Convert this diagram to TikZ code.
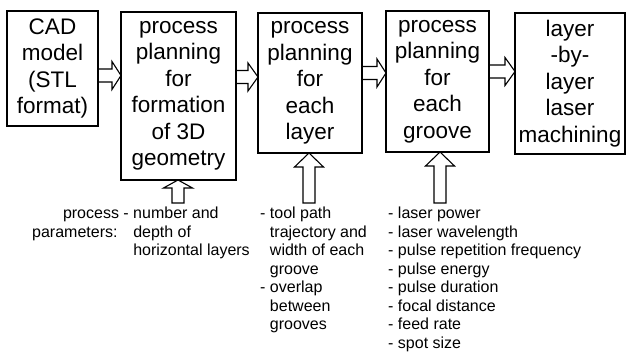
\documentclass[tikz,border=0pt]{standalone}
\usepackage{fontspec}
\setmainfont{Liberation Sans}
\usetikzlibrary{calc}

\tikzset{
  headlen/.store in=\ahlen, headlen=10pt,
  stagebox/.style={draw, line width=1.2pt, inner sep=0pt, outer sep=0pt, align=center,
    font=\fontsize{22.5}{26.5}\selectfont},
  paramtext/.style={inner sep=0pt, anchor=base west, font=\fontsize{16}{18.45}\selectfont},
  % hollow block arrow pointing right
  harrow/.style={line width=1.1pt, line join=miter, to path={
    let \p1=(\tikztostart), \p2=(\tikztotarget) in
    (\x1,\y1+6.5pt) -- (\x2-\ahlen,\y1+6.5pt) -- (\x2-\ahlen,\y1+14pt) -- (\x2,\y1)
    -- (\x2-\ahlen,\y1-14pt) -- (\x2-\ahlen,\y1-6.5pt) -- (\x1,\y1-6.5pt) -- cycle}},
  % hollow block arrow pointing up
  varrow/.style={line width=1.1pt, line join=miter, to path={
    let \p1=(\tikztostart), \p2=(\tikztotarget) in
    (\x1-6pt,\y1) -- (\x1-6pt,\y2-\ahlen) -- (\x1-14.5pt,\y2-\ahlen) -- (\x1,\y2)
    -- (\x1+14.5pt,\y2-\ahlen) -- (\x1+6pt,\y2-\ahlen) -- (\x1+6pt,\y1) -- cycle}}
}

\begin{document}
\begin{tikzpicture}[x=1pt, y=-1pt]
\useasboundingbox (0,0) rectangle (626,352);

% process stages
\node[stagebox, minimum width=91pt, minimum height=115pt] (b1) at (52.5,68.5)
  {CAD\\model\\(STL\\format)};
\node[stagebox, minimum width=115pt, minimum height=168pt] (b2) at (178.5,96)
  {process\\planning\\for\\formation\\of 3D\\geometry};
\node[stagebox, minimum width=104pt, minimum height=140pt] (b3) at (310,83)
  {process\\planning\\for\\each\\layer};
\node[stagebox, minimum width=103pt, minimum height=141pt] (b4) at (437.5,81.5)
  {process\\planning\\for\\each\\groove};
\node[stagebox, minimum width=110pt, minimum height=141pt] (b5) at (570,83.5)
  {layer\\-by-\\layer\\laser\\machining};

% levels of the arrows between stages
\coordinate (h1) at (0,75.5);
\coordinate (h2) at (0,77);
\coordinate (h3) at (0,73);
\coordinate (h4) at (0,71.5);
\draw[harrow, headlen=9pt] (b1.east |- h1) to (b2.west |- h1);
\draw[harrow, headlen=10pt] (b2.east |- h2) to (b3.west |- h2);
\draw[harrow, headlen=9pt] (b3.east |- h3) to (b4.west |- h3);
\draw[harrow, headlen=10pt] (b4.east |- h4) to (b5.west |- h4);

% parameter inputs
\coordinate (v2) at (178,203);
\coordinate (v3) at (309,203);
\coordinate (v4) at (440,203);
\draw[varrow, headlen=8pt] (v2) to (b2.south -| v2);
\draw[varrow, headlen=14pt] (v3) to (b3.south -| v3);
\draw[varrow, headlen=14pt] (v4) to (b4.south -| v4);

% parameter lists
\node[paramtext] (p2) at (32,219) {\begin{tabular}[t]{@{}r@{ }l@{ }l@{}}
  process & - & number and\\
  parameters: & & depth of\\
  & & horizontal layers
\end{tabular}};
\node[paramtext] (p3) at (260,219) {\begin{tabular}[t]{@{}l@{ }l@{}}
  - & tool path\\
  & trajectory and\\
  & width of each\\
  & groove\\
  - & overlap\\
  & between\\
  & grooves
\end{tabular}};
\node[paramtext] (p4) at (388,219) {\begin{tabular}[t]{@{}l@{ }l@{}}
  - & laser power\\
  - & laser wavelength\\
  - & pulse repetition frequency\\
  - & pulse energy\\
  - & pulse duration\\
  - & focal distance\\
  - & feed rate\\
  - & spot size
\end{tabular}};
\end{tikzpicture}
\end{document}
